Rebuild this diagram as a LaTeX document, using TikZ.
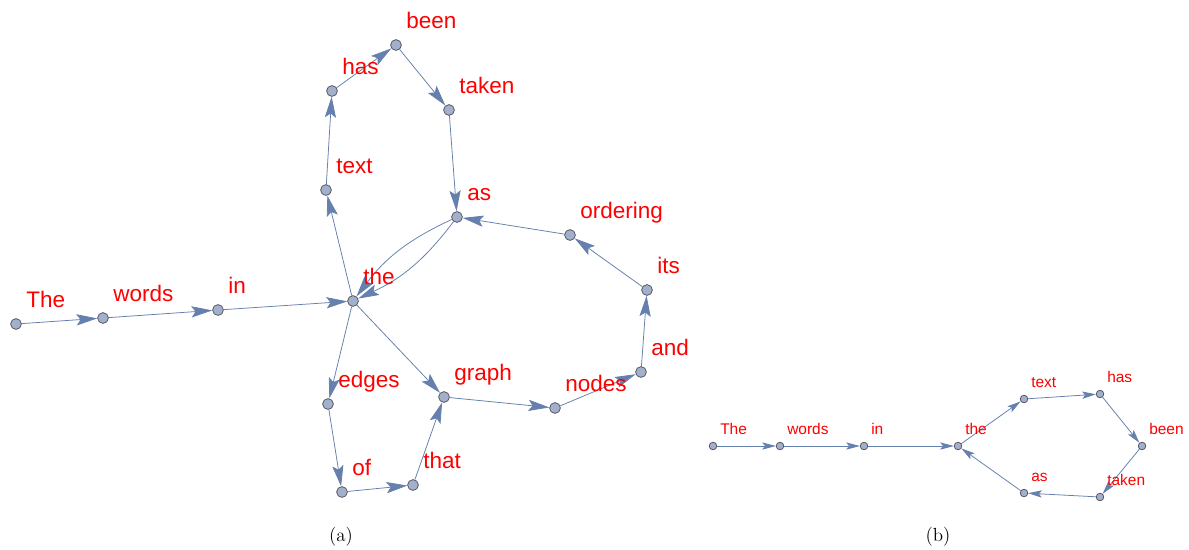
\documentclass[tikz,border=0pt]{standalone}
\usepackage{fontspec}
\newfontfamily\wordfont{Liberation Sans}
\usepackage{tikz}
\usetikzlibrary{arrows.meta,backgrounds}

\definecolor{edgeblue}{rgb}{0.40,0.50,0.68}
\definecolor{vertexfill}{rgb}{0.64,0.69,0.80}
\definecolor{vertexline}{rgb}{0.30,0.30,0.34}

\begin{document}
\begin{tikzpicture}[x=0.025cm, y=-0.025cm,
    vtx/.style={circle, draw=vertexline, fill=vertexfill, line width=0.5pt, inner sep=0pt, minimum size=0.27cm},
    svtx/.style={vtx, minimum size=0.19cm},
    wrd/.style={red, font=\wordfont\fontsize{16}{18}\selectfont, anchor=base west, inner sep=0pt},
    swrd/.style={wrd, font=\wordfont\fontsize{11}{13}\selectfont},
    link/.style={-{Stealth[length=0.52cm, width=0.28cm, inset=0.1cm]}, edgeblue, line width=0.55pt},
    slink/.style={-{Stealth[length=0.34cm, width=0.18cm, inset=0.07cm]}, edgeblue, line width=0.55pt}]
  \useasboundingbox (0,0) rectangle (1189,549);

  % --- (a): vertices of the word graph ---
  \node[vtx] (aThe)      at (16,324)  {};
  \node[vtx] (awords)    at (103,318) {};
  \node[vtx] (ain)       at (218,310) {};
  \node[vtx] (athe)      at (353,301) {};
  \node[vtx] (atext)     at (326,190) {};
  \node[vtx] (ahas)      at (332,91)  {};
  \node[vtx] (abeen)     at (396,45)  {};
  \node[vtx] (ataken)    at (449,110) {};
  \node[vtx] (aas)       at (457,217) {};
  \node[vtx] (aordering) at (570,235) {};
  \node[vtx] (aits)      at (647,290) {};
  \node[vtx] (aand)      at (641,372) {};
  \node[vtx] (anodes)    at (555,408) {};
  \node[vtx] (agraph)    at (444,397) {};
  \node[vtx] (aedges)    at (328,404) {};
  \node[vtx] (aof)       at (342,492) {};
  \node[vtx] (athat)     at (413,485) {};

  % --- (a): edges, kept behind the vertices ---
  \begin{pgfonlayer}{background}
    \draw[link] (aThe) -- (awords);
    \draw[link] (awords) -- (ain);
    \draw[link] (ain) -- (athe);
    \draw[link] (athe) -- (atext);
    \draw[link] (atext) -- (ahas);
    \draw[link] (ahas) -- (abeen);
    \draw[link] (abeen) -- (ataken);
    \draw[link] (ataken) -- (aas);
    \draw[link] (aas) to[bend left=14] (athe);
    \draw[link] (aas) to[bend right=14] (athe);
    \draw[link] (aordering) -- (aas);
    \draw[link] (aits) -- (aordering);
    \draw[link] (aand) -- (aits);
    \draw[link] (anodes) -- (aand);
    \draw[link] (agraph) -- (anodes);
    \draw[link] (athe) -- (agraph);
    \draw[link] (athe) -- (aedges);
    \draw[link] (aedges) -- (aof);
    \draw[link] (aof) -- (athat);
    \draw[link] (athat) -- (agraph);
  \end{pgfonlayer}

  % --- (a): word labels, above right of each vertex ---
  \node[wrd] (lThe)      at ([shift={(10,-17)}]aThe.center)      {The};
  \node[wrd] (lwords)    at ([shift={(10,-17)}]awords.center)    {words};
  \node[wrd] (lin)       at ([shift={(10,-17)}]ain.center)       {in};
  \node[wrd] (lthe)      at ([shift={(10,-17)}]athe.center)      {the};
  \node[wrd] (ltext)     at ([shift={(10,-17)}]atext.center)     {text};
  \node[wrd] (lhas)      at ([shift={(10,-17)}]ahas.center)      {has};
  \node[wrd] (lbeen)     at ([shift={(10,-17)}]abeen.center)     {been};
  \node[wrd] (ltaken)    at ([shift={(10,-17)}]ataken.center)    {taken};
  \node[wrd] (las)       at ([shift={(10,-17)}]aas.center)       {as};
  \node[wrd] (lordering) at ([shift={(10,-17)}]aordering.center) {ordering};
  \node[wrd] (lits)      at ([shift={(10,-17)}]aits.center)      {its};
  \node[wrd] (land)      at ([shift={(10,-17)}]aand.center)      {and};
  \node[wrd] (lnodes)    at ([shift={(10,-17)}]anodes.center)    {nodes};
  \node[wrd] (lgraph)    at ([shift={(10,-17)}]agraph.center)    {graph};
  \node[wrd] (ledges)    at ([shift={(10,-17)}]aedges.center)    {edges};
  \node[wrd] (lof)       at ([shift={(10,-17)}]aof.center)       {of};
  \node[wrd] (lthat)     at ([shift={(10,-17)}]athat.center)     {that};

  % --- (b): the shorter sentence ---
  \node[svtx] (bThe)   at (713,446)  {};
  \node[svtx] (bwords) at (780,446)  {};
  \node[svtx] (bin)    at (864,446)  {};
  \node[svtx] (bthe)   at (958,446)  {};
  \node[svtx] (btext)  at (1024,399) {};
  \node[svtx] (bhas)   at (1100,394) {};
  \node[svtx] (bbeen)  at (1142,446) {};
  \node[svtx] (btaken) at (1100,497) {};
  \node[svtx] (bas)    at (1024,493) {};

  \begin{pgfonlayer}{background}
    \draw[slink] (bThe) -- (bwords);
    \draw[slink] (bwords) -- (bin);
    \draw[slink] (bin) -- (bthe);
    \draw[slink] (bthe) -- (btext);
    \draw[slink] (btext) -- (bhas);
    \draw[slink] (bhas) -- (bbeen);
    \draw[slink] (bbeen) -- (btaken);
    \draw[slink] (btaken) -- (bas);
    \draw[slink] (bas) -- (bthe);
  \end{pgfonlayer}

  \node[swrd] (mThe)   at ([shift={(7,-12)}]bThe.center)   {The};
  \node[swrd] (mwords) at ([shift={(7,-12)}]bwords.center) {words};
  \node[swrd] (min)    at ([shift={(7,-12)}]bin.center)    {in};
  \node[swrd] (mthe)   at ([shift={(7,-12)}]bthe.center)   {the};
  \node[swrd] (mtext)  at ([shift={(7,-12)}]btext.center)  {text};
  \node[swrd] (mhas)   at ([shift={(7,-12)}]bhas.center)   {has};
  \node[swrd] (mbeen)  at ([shift={(7,-12)}]bbeen.center)  {been};
  \node[swrd] (mtaken) at ([shift={(7,-12)}]btaken.center) {taken};
  \node[swrd] (mas)    at ([shift={(7,-12)}]bas.center)    {as};

  % --- captions ---
  \node[font=\fontsize{13.5}{16}\selectfont] (capa) at (341,537) {(a)};
  \node[font=\fontsize{13.5}{16}\selectfont] (capb) at (938,537) {(b)};
\end{tikzpicture}
\end{document}
